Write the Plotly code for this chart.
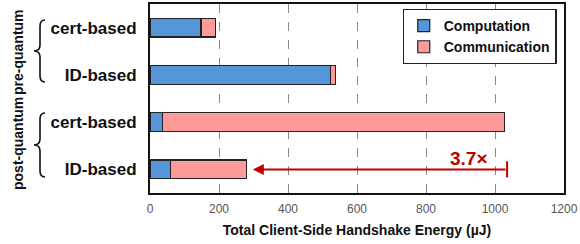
import plotly.graph_objects as go

categories = ["pre cert-based", "pre ID-based", "post cert-based", "post ID-based"]
tick_labels = ["cert-based", "ID-based", "cert-based", "ID-based"]
computation = [148, 523, 36, 59]
communication = [42, 15, 992, 221]
ratio_label = "3.7×"
x_ticks = [0, 200, 400, 600, 800, 1000, 1200]

totals = [a + b for a, b in zip(computation, communication)]
ypos = list(range(len(categories)))

BLUE = "#5596D8"
PINK = "#FF9A9A"
RED = "#C00000"
FONT = "Liberation Sans, Arial, sans-serif"

fig = go.Figure()
fig.add_bar(y=ypos, x=computation, orientation="h", name="<b>Computation</b>",
            marker=dict(color=BLUE, line=dict(color="#222", width=1.2)), width=0.4)
fig.add_bar(y=ypos, x=communication, orientation="h", name="<b>Communication</b>",
            marker=dict(color=PINK, line=dict(color="#222", width=1.2)), width=0.4)

L, R, T, B = 150, 16, 4, 51
W, H = 580, 244
pw, ph = W - L - R, H - T - B

def px(x):
    return (x - L) / pw

def py(y):
    return (H - B - y) / ph

def brace(top, bottom, xr=45, xi=40, xt=34):
    mid = (top + bottom) / 2
    pts = (f"M {px(xr)},{py(top)} Q {px(xi)},{py(top)} {px(xi)},{py(top+6)} "
           f"L {px(xi)},{py(mid-6)} Q {px(xi)},{py(mid)} {px(xt)},{py(mid)} "
           f"Q {px(xi)},{py(mid)} {px(xi)},{py(mid+6)} "
           f"L {px(xi)},{py(bottom-6)} Q {px(xi)},{py(bottom)} {px(xr)},{py(bottom)}")
    return dict(type="path", xref="paper", yref="paper", path=pts,
                line=dict(color="#111", width=1.6))

shapes = [brace(20, 82), brace(113, 177)]

# arrow from post cert total to post ID total
arrow_start = totals[2] + 7
arrow_end = totals[3] + 18
shapes.append(dict(type="line", xref="x", yref="y", x0=arrow_start, x1=arrow_start,
                   y0=3 - 0.17, y1=3 + 0.17, line=dict(color=RED, width=2)))

annotations = [
    dict(x=arrow_end, y=3, ax=arrow_start, ay=3, xref="x", yref="y", axref="x", ayref="y",
         showarrow=True, arrowhead=2, arrowsize=1.1, arrowwidth=2, arrowcolor=RED, text=""),
    dict(x=926, y=2.78, xref="x", yref="y", text=f"<b>{ratio_label}</b>", showarrow=False,
         font=dict(color=RED, size=19, family=FONT)),
    dict(x=px(18), y=py(52), xref="paper", yref="paper", text="<b>pre-quantum</b>",
         textangle=-90, showarrow=False, xanchor="center", yanchor="middle",
         font=dict(size=14, color="#111", family=FONT)),
    dict(x=px(18), y=py(144), xref="paper", yref="paper", text="<b>post-quantum</b>",
         textangle=-90, showarrow=False, xanchor="center", yanchor="middle",
         font=dict(size=14, color="#111", family=FONT)),
]

fig.update_layout(
    barmode="stack", width=W, height=H,
    margin=dict(l=L, r=R, t=T, b=B, autoexpand=False),
    plot_bgcolor="white", paper_bgcolor="white",
    font=dict(family=FONT),
    shapes=shapes, annotations=annotations,
    legend=dict(x=0.982, y=0.975, xanchor="right", yanchor="top",
                bordercolor="#222", borderwidth=1.2, bgcolor="white",
                font=dict(size=14, color="#111", family=FONT),
                traceorder="normal", itemwidth=30, tracegroupgap=2),
    xaxis=dict(range=[0, 1200], tickvals=x_ticks, ticktext=[str(v) for v in x_ticks],
               showgrid=True, gridcolor="#888", griddash="dash", gridwidth=1,
               showline=True, linecolor="#111", linewidth=2, mirror=True,
               ticks="", tickfont=dict(size=12, color="#555"), automargin=False,
               ticklabelstandoff=4,
               title=dict(text="<b>Total Client-Side Handshake Energy (µJ)</b>",
                          font=dict(size=14, color="#111"), standoff=10),
               zeroline=False),
    yaxis=dict(range=[3.5, -0.5], tickvals=ypos,
               ticktext=[f"<b>{t}</b>" for t in tick_labels],
               tickfont=dict(size=17, color="#111"), showgrid=False,
               showline=True, linecolor="#111", linewidth=2, mirror=True,
               ticks="", zeroline=False, automargin=False, ticklabelstandoff=8),
)

fig.write_html("out.html", post_script="document.body.style.margin='0';",
               config={"displayModeBar": False})
